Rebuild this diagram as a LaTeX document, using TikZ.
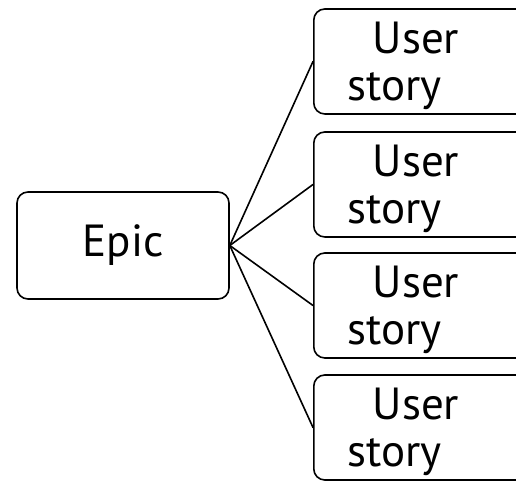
\documentclass[tikz,border=0pt]{standalone}
\usepackage{fontspec}
\setmainfont{PT Sans}
\usepackage{tikz}

\begin{document}
\begin{tikzpicture}[x=1pt,y=1pt,line cap=round,
  box/.style={draw, line width=1.6pt, rounded corners=11pt, font=\fontsize{45}{47}\selectfont},
  epicbox/.style={box, minimum width=212pt, minimum height=107pt},
  storybox/.style={box, anchor=west, text width=162pt, align=left, inner xsep=34pt, text height=40pt, minimum height=105pt}]

\useasboundingbox (0,0) rectangle (516,481);

\node[epicbox] (epic) at (123, 235.5) {Epic};

\node[storybox] (story1) at (313, 419.5) {\hspace*{25pt}User\\story};
\node[storybox] (story2) at (313, 296.5) {\hspace*{25pt}User\\story};
\node[storybox] (story3) at (313, 175.5) {\hspace*{25pt}User\\story};
\node[storybox] (story4) at (313, 53.5) {\hspace*{25pt}User\\story};

\draw [line width=1.6pt] (epic.east) -- (story1.west);
\draw [line width=1.6pt] (epic.east) -- (story2.west);
\draw [line width=1.6pt] (epic.east) -- (story3.west);
\draw [line width=1.6pt] (epic.east) -- (story4.west);

\end{tikzpicture}
\end{document}
